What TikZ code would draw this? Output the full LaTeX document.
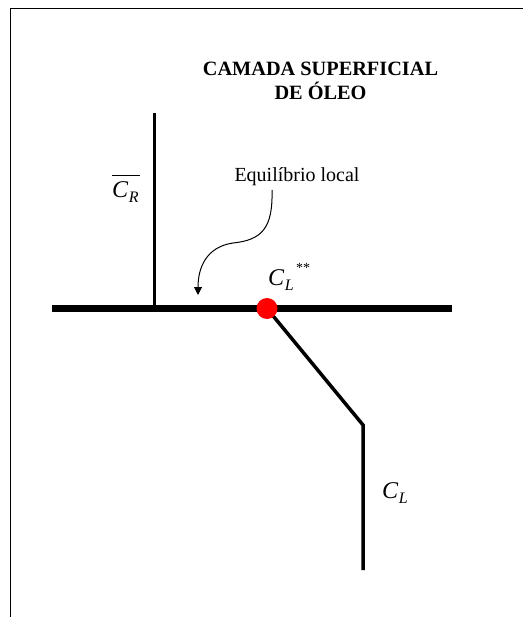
\documentclass[tikz,border=0pt]{standalone}
\usepackage{fontspec}
\setmainfont{Liberation Serif}
\usetikzlibrary{arrows.meta}
\newcommand{\symC}[2]{\textit{C}\kern0.5pt\raisebox{-5pt}{\fontsize{16}{16}\selectfont\textit{#1}}#2}
\begin{document}
\begin{tikzpicture}[x=1pt,y=-1pt,
  lbl/.style={inner sep=0pt, anchor=base},
  sym/.style={inner sep=0pt, anchor=base west, font=\fontsize{24}{24}\selectfont},
  thick line/.style={line width=3.5pt, line join=miter}]
\useasboundingbox (0,0) rectangle (523,617);
% frame
\coordinate (fb) at (10.5,617);
\coordinate (fc) at (10.5,8.5);
\coordinate (fr) at (523,8.5);
\draw[line width=1.6pt] (fb) -- (fc) -- (fr);
% title
\node[lbl, font=\fontsize{20.3}{25}\selectfont\bfseries] (t1) at (320.5,76) {CAMADA SUPERFICIAL};
\node[lbl, font=\fontsize{20.3}{25}\selectfont\bfseries] (t2) at (320.5,100) {DE ÓLEO};
% lines
\coordinate (hl) at (52,308.5);
\coordinate (hr) at (451.5,308.5);
\coordinate (vt) at (154.5,113);
\coordinate (vb) at (154.5,308.5);
\coordinate (p0) at (267,308.5);
\coordinate (bend) at (363,425);
\coordinate (bot) at (363,570);
\draw[line width=6.5pt] (hl) -- (hr);
\draw[thick line] (vt) -- (vb);
\draw[thick line] (p0) -- (bend) -- (bot);
\node[circle, fill=red, minimum size=21pt, inner sep=0pt] (dot) at (p0) {};
% labels
\node[sym] (cr) at (112,198) {\symC{R}{}};
\draw[line width=1pt] ([yshift=22pt]cr.base west) -- ([xshift=1pt,yshift=22pt]cr.base east);
\node[sym] (cls) at (268,285) {\symC{L}{\raisebox{13pt}{\fontsize{14}{14}\selectfont\,**}}};
\node[sym] (cl) at (382,498) {\symC{L}{}};
% annotation
\node[lbl, font=\fontsize{20}{24}\selectfont] (eq) at (297,182) {Equilíbrio local};
\coordinate (a0) at (272,190);
\coordinate (a1) at (198,295);
\draw[line width=1pt, -{Triangle[length=8pt,width=8pt]}] (a0) .. controls (273,228) and (262,240) .. (233,243) .. controls (206,247) and (198,268) .. (a1);
\end{tikzpicture}
\end{document}
